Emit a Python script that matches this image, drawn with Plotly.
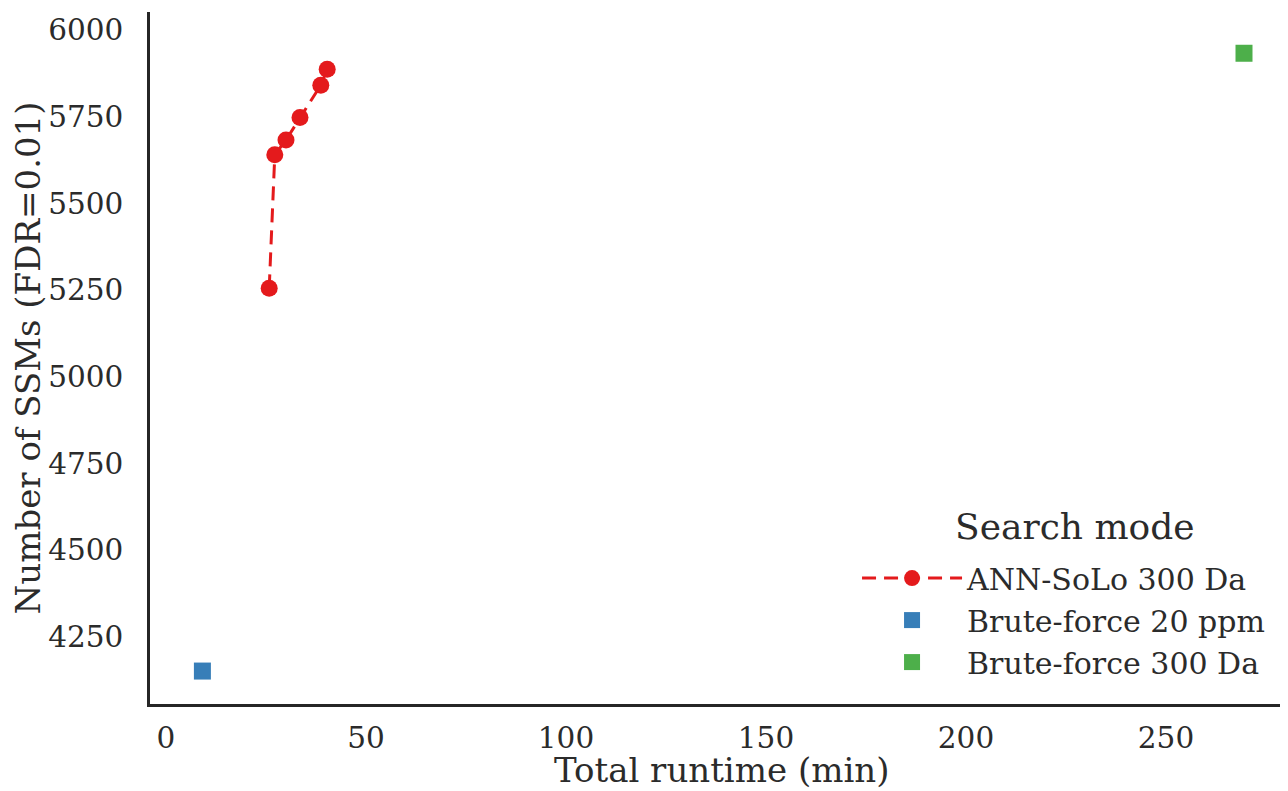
import plotly.graph_objects as go

# Data
ann_runtime = [25.8, 27.2, 30.0, 33.5, 38.7, 40.3]
ann_ssms = [5255, 5640, 5683, 5748, 5841, 5887]
bf20_runtime = [9.1]
bf20_ssms = [4151]
bf300_runtime = [269.5]
bf300_ssms = [5933]

series_names = ["ANN-SoLo 300 Da", "Brute-force 20 ppm", "Brute-force 300 Da"]
legend_title = "Search mode"
x_title = "Total runtime (min)"
y_title = "Number of SSMs (FDR=0.01)"
x_ticks = [0, 50, 100, 150, 200, 250]
y_ticks = [4250, 4500, 4750, 5000, 5250, 5500, 5750, 6000]

RED = "#e41a1c"
BLUE = "#377eb8"
GREEN = "#4daf4a"
FONT = "DejaVu Serif"
SPINE = "#262626"
TEXT = "#2b2b2b"

fig = go.Figure()
fig.add_trace(go.Scatter(
    x=ann_runtime, y=ann_ssms, name=series_names[0], mode="lines+markers",
    line=dict(color=RED, width=3, dash="14px,8px"),
    marker=dict(color=RED, size=17, symbol="circle"),
))
fig.add_trace(go.Scatter(
    x=bf20_runtime, y=bf20_ssms, name=series_names[1], mode="markers",
    marker=dict(color=BLUE, size=17, symbol="square"),
))
fig.add_trace(go.Scatter(
    x=bf300_runtime, y=bf300_ssms, name=series_names[2], mode="markers",
    marker=dict(color=GREEN, size=17, symbol="square"),
))

fig.add_annotation(
    text=legend_title, xref="paper", yref="paper", x=0.8128, y=0.2558,
    xanchor="center", yanchor="middle", showarrow=False,
    font=dict(family=FONT, size=36, color=TEXT),
)
fig.add_annotation(
    text=x_title, xref="paper", yref="paper", x=0.5026, y=-0.0955,
    xanchor="center", yanchor="middle", showarrow=False, borderpad=0,
    font=dict(family=FONT, size=34, color=TEXT),
)

fig.update_layout(
    width=1280, height=783,
    margin=dict(l=142, r=0, t=4, b=87, autoexpand=False),
    paper_bgcolor="white", plot_bgcolor="white",
    font=dict(family=FONT, size=29, color=TEXT),
    showlegend=True,
    legend=dict(
        x=0.6213, xanchor="left", y=0.023, yanchor="bottom",
        bgcolor="rgba(255,255,255,0)",
        font=dict(family=FONT, size=30, color=TEXT),
        tracegroupgap=0, itemwidth=100,
    ),
    xaxis=dict(
        range=[-4, 280.5], tickvals=x_ticks, ticktext=[str(v) for v in x_ticks],
        showgrid=False, zeroline=False, automargin=False,
        showline=True, linecolor=SPINE, linewidth=2.5,
        ticks="", ticklabelstandoff=6,
        tickfont=dict(family=FONT, size=29.5, color=TEXT),
    ),
    yaxis=dict(
        range=[4056, 6052], tickvals=y_ticks, ticktext=[str(v) for v in y_ticks],
        showgrid=False, zeroline=False, automargin=False,
        showline=True, linecolor=SPINE, linewidth=2.5,
        ticks="", ticklabelstandoff=18,
        title=dict(text=y_title, standoff=12,
                   font=dict(family=FONT, size=34, color=TEXT)),
        tickfont=dict(family=FONT, size=29.5, color=TEXT),
    ),
)

fig.write_html("out.html")
